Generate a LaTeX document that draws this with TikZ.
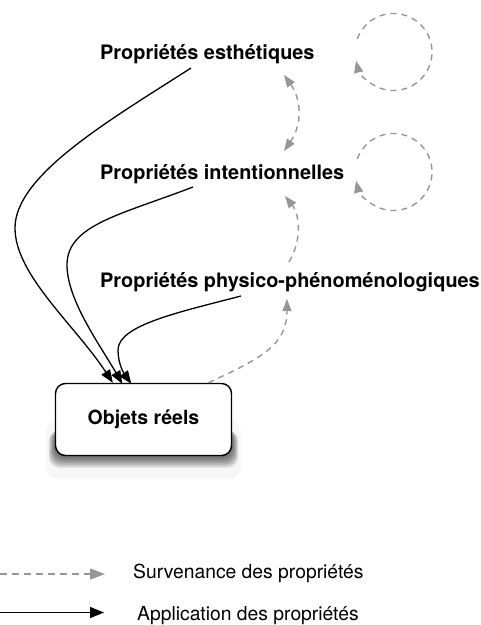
\documentclass[tikz,border=0pt]{standalone}
\usepackage{fontspec}
\setmainfont{TeX Gyre Heros}
\usetikzlibrary{arrows.meta}
\definecolor{survgray}{RGB}{150,150,150}
\begin{document}
\begin{tikzpicture}[x=1pt,y=-1pt,
  prop/.style={anchor=base west, inner sep=0pt, font=\fontsize{19.9}{23}\selectfont\bfseries},
  leg/.style={anchor=base west, inner sep=0pt, font=\fontsize{19.3}{23}\selectfont},
  objbox/.style={draw=black, line width=1.4pt, fill=white, rounded corners=10pt,
    minimum width=176pt, minimum height=72pt, inner sep=0pt, font=\fontsize{19.5}{23}\selectfont\bfseries},
  sv/.style={draw=survgray, line width=1.4pt, dash pattern=on 6pt off 5pt,
    -{Triangle[length=12pt,width=9pt,fill=survgray]}},
  svboth/.style={draw=survgray, line width=1.4pt, dash pattern=on 6pt off 5pt,
    {Triangle[length=12pt,width=9pt,fill=survgray]}-{Triangle[length=12pt,width=9pt,fill=survgray]}},
  ap/.style={draw=black, line width=1.3pt, -{Triangle[length=13pt,width=10pt]}},
  legsv/.style={draw=survgray, line width=1.4pt, dash pattern=on 7pt off 5pt,
    -{Triangle[length=15pt,width=11pt,fill=survgray]}},
  legap/.style={draw=black, line width=1.4pt, -{Triangle[length=14pt,width=11pt]}},
]
\useasboundingbox (0,0) rectangle (481,625);

% text nodes
\node[prop] (aes) at (100,59) {Propriétés esthétiques};
\node[prop] (int) at (100,179) {Propriétés intentionnelles};
\node[prop] (phy) at (100,287) {Propriétés physico-phénoménologiques};

% shadow of the box
\fill[black, opacity=0.03, rounded corners=12pt] (46,420) rectangle (241,479);
\foreach \i in {1,...,8}{
  \fill[black, opacity=0.1, rounded corners=11pt]
    (56-\i*0.9, 430) rectangle (231+\i*0.9, 455+\i*1.6);
}
\node[objbox] (obj) at (143.5,419.5) {Objets réels};

% named free ends
\coordinate (a1) at (191,68);
\coordinate (i1) at (193,187);
\coordinate (p1) at (241,296);
\coordinate (t1) at ([xshift=58pt]obj.north west);
\coordinate (t2) at ([xshift=67.5pt,yshift=-1pt]obj.north west);
\coordinate (t3) at ([xshift=76.5pt,yshift=-1pt]obj.north west);
\coordinate (o1) at ([xshift=153.5pt]obj.north west);

\coordinate (ae) at (284,75);
\coordinate (ie1) at (284,151);
\coordinate (ie2) at (285,196);
\coordinate (ps1) at (289,262);
\coordinate (ps2) at (287,299);

\coordinate (cA) at (393.5,52);
\coordinate (cB) at (393.5,172);

% application arrows
\draw[ap] (a1) .. controls (110,120) and (15,175) .. (15,228)
               .. controls (15,275) and (75,325) .. (t1);
\draw[ap] (i1) .. controls (120,215) and (67,225) .. (67,265)
               .. controls (67,300) and (100,345) .. (t2);
\draw[ap] (p1) .. controls (180,312) and (118,325) .. (118,350)
               .. controls (118,365) and (125,375) .. (t3);

% supervenience arrows
\draw[svboth] (ae) .. controls (302,100) and (302,125) .. (ie1);
\draw[sv] (ps1) .. controls (302,240) and (300,215) .. (ie2);
\draw[sv] (o1) .. controls (262,358) and (287,345) .. (ps2);

% self loops
\draw[sv] ([shift={(200:38.5)}]cA) arc[start angle=200, end angle=527, radius=38.5];
\draw[sv] ([shift={(200:38.5)}]cB) arc[start angle=200, end angle=527, radius=38.5];

% legend
\coordinate (l1s) at (0,574);
\coordinate (l1e) at (105,574);
\coordinate (l2s) at (0,612.5);
\coordinate (l2e) at (104,612.5);
\draw[legsv] (l1s) -- (l1e);
\draw[legap] (l2s) -- (l2e);
\node[leg] (lg1) at (133,578) {Survenance des propriétés};
\node[leg] (lg2) at (137,620) {Application des propriétés};
\end{tikzpicture}
\end{document}
